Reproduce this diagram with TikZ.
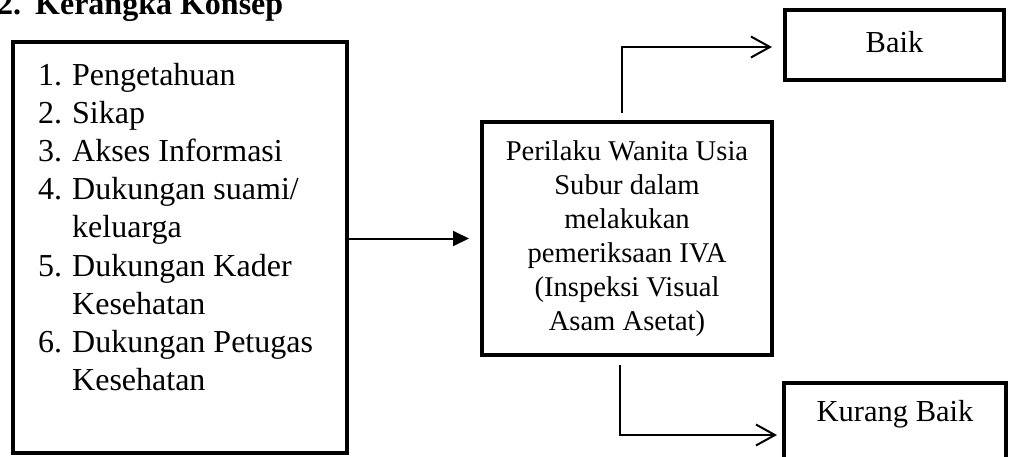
\documentclass[tikz,border=0pt]{standalone}
\usepackage{fontspec}
\setmainfont{Liberation Serif}
\usetikzlibrary{arrows.meta}
\begin{document}
\begin{tikzpicture}[x=1pt,y=-1pt,
  box/.style={draw, rectangle, line width=4.5pt, inner sep=0pt},
  conn/.style={line width=2pt},
  filledtip/.style={-{Triangle[length=16pt,width=15pt]}},
  opentip/.style={-{Straight Barb[length=19pt,width=21pt]}}]
\useasboundingbox (0,0) rectangle (1010,456);
\clip (0,0) rectangle (1010,456);
% title
\node[anchor=base west, inner sep=0pt, font=\bfseries\fontsize{32}{38}\selectfont] (title) at (-3,14)
  {\makebox[38pt][l]{2.}Kerangka Konsep};
% left box with list
\node[box, minimum width=334pt, minimum height=411pt] (factors) at (180,247.5) {};
\node[anchor=base west, inner sep=0pt, font=\fontsize{32}{38.2}\selectfont] (list) at (38,85)
  {\begin{tabular}[t]{@{}l@{}l@{}}
   \makebox[34pt][l]{1.} & Pengetahuan\\
   \makebox[34pt][l]{2.} & Sikap\\
   \makebox[34pt][l]{3.} & Akses Informasi\\
   \makebox[34pt][l]{4.} & Dukungan suami/\\
   & keluarga\\
   \makebox[34pt][l]{5.} & Dukungan Kader\\
   & Kesehatan\\
   \makebox[34pt][l]{6.} & Dukungan Petugas\\
   & Kesehatan
   \end{tabular}};
% middle box
\node[box, minimum width=290pt, minimum height=233pt, align=center,
      font=\fontsize{28.6}{34}\selectfont] (behavior) at (627,238.5)
  {Perilaku Wanita Usia\\Subur dalam\\melakukan\\pemeriksaan IVA\\(Inspeksi Visual\\Asam Asetat)};
% outcome boxes
\node[box, minimum width=219pt, minimum height=70pt, font=\fontsize{30.5}{36}\selectfont,
      text height=22pt, text depth=8pt] (baik) at (894.5,45) {Baik};
\node[box, minimum width=222pt, minimum height=104pt, font=\fontsize{30.5}{36}\selectfont,
      text height=20pt, text depth=46.6pt] (kurang) at (895,435) {Kurang Baik};
% connectors
\draw[conn, filledtip, shorten >=10.75pt] (factors.east |- behavior.west) -- (behavior.west);
\draw[conn, opentip, shorten >=10.75pt] ([xshift=-5pt,yshift=7pt]behavior.north) |- ([yshift=-2pt]baik.west);
\draw[conn, opentip, shorten >=4.75pt] ([xshift=-7pt,yshift=-8pt]behavior.south) |- (kurang.west);
\end{tikzpicture}
\end{document}
